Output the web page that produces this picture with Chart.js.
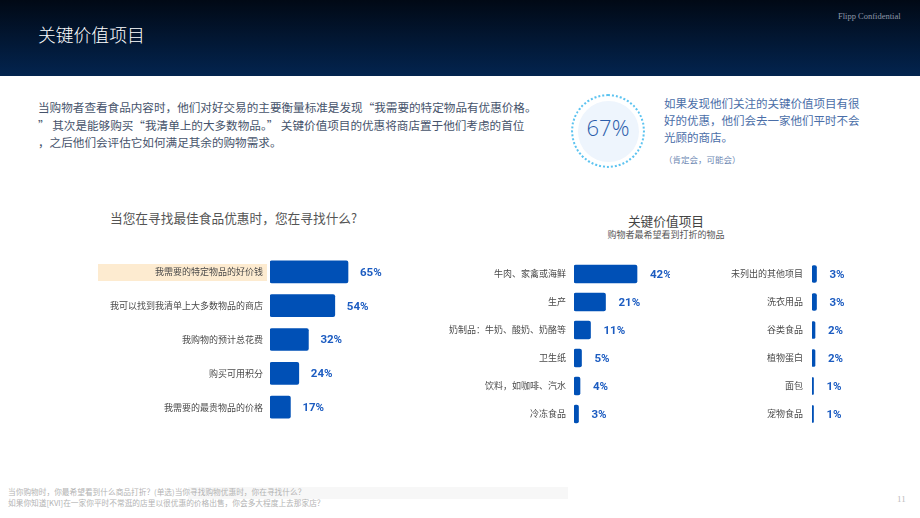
<!DOCTYPE html>
<html>
<head>
<meta charset="utf-8">
<script src="https://cdn.jsdelivr.net/npm/chart.js@4"></script>
<style>
  body { margin: 0; width: 920px; height: 518px; position: relative; background: #fff; overflow: hidden;
         font-family: "Noto Sans CJK SC", "Noto Sans", sans-serif; }
  .header { position: absolute; left: 0; top: 0; width: 920px; height: 76px;
            background: linear-gradient(#010915, #03244f); }
  .title { position: absolute; left: 38px; top: 21px; font-size: 17.8px; color: #fff; font-weight: 300; }
  .conf { position: absolute; left: 838px; top: 11px; font-family: "Liberation Serif", serif; font-size: 8.5px; color: #8d97a8; }
  .para { position: absolute; left: 38px; top: 99px; font-size: 11.6px; line-height: 17.5px; color: #46536b; white-space: nowrap; }
  .ring { position: absolute; left: 571px; top: 94px; width: 70px; height: 70px; border-radius: 50%;
          border: 2.5px dotted #5cc3f0; }
  .disc { position: absolute; left: 578px; top: 101px; width: 61px; height: 61px; border-radius: 50%; background: #eef5fd; }
  .pct { position: absolute; left: 571px; top: 112px; width: 74px; text-align: center; font-family: "Open Sans", sans-serif;
         font-weight: 300; font-size: 22px; color: #2b5dab; }
  .side { position: absolute; left: 664px; top: 95px; font-size: 11.5px; line-height: 17px; color: #4a6ea8; white-space: nowrap; }
  .side2 { position: absolute; left: 664px; top: 153px; font-size: 8.5px; color: #6d87b3; }
  .ltitle { position: absolute; left: 110px; top: 208px; font-size: 12.7px; color: #555; white-space: nowrap; }
  .rtitle { position: absolute; left: 566px; top: 211px; width: 200px; text-align: center; font-size: 12.7px; color: #444; }
  .rsub { position: absolute; left: 566px; top: 228px; width: 200px; text-align: center; font-size: 9px; color: #555; }
  .hl { position: absolute; left: 98px; top: 264px; width: 169px; height: 17px; background: #fdebd0; }
  canvas { position: absolute; }
  .fbox { position: absolute; left: 188px; top: 487px; width: 380px; height: 12px; background: #f7f7f7; }
  .foot { position: absolute; left: 8px; top: 486px; font-size: 7.7px; line-height: 11px; color: #b3b3b3; white-space: nowrap; }
  .pg { position: absolute; left: 897px; top: 494px; font-family: "Liberation Serif", serif; font-size: 9px; color: #bbb; }
</style>
</head>
<body>
<div class="header"></div>
<div class="title">关键价值项目</div>
<div class="conf">Flipp Confidential</div>
<div class="para">当购物者查看食品内容时，他们对好交易的主要衡量标准是发现“我需要的特定物品有优惠价格。<br>” 其次是能够购买“我清单上的大多数物品。” 关键价值项目的优惠将商店置于他们考虑的首位<br>，之后他们会评估它如何满足其余的购物需求。</div>
<div class="disc"></div>
<div class="ring"></div>
<div class="pct">67%</div>
<div class="side">如果发现他们关注的关键价值项目有很<br>好的优惠，他们会去一家他们平时不会<br>光顾的商店。</div>
<div class="side2">（肯定会，可能会）</div>
<div class="ltitle">当您在寻找最佳食品优惠时，您在寻找什么?</div>
<div class="rtitle">关键价值项目</div>
<div class="rsub">购物者最希望看到打折的物品</div>
<div class="hl"></div>
<canvas id="leftChart"></canvas>
<canvas id="midChart"></canvas>
<canvas id="rightChart"></canvas>
<div class="fbox"></div>
<div class="foot">当你购物时，你最希望看到什么商品打折？(单选)当你寻找购物优惠时，你在寻找什么？<br>如果你知道[KVI]在一家你平时不常逛的店里以很优惠的价格出售，你会多大程度上去那家店？</div>
<div class="pg">11</div>

<script>
// 数据
const leftLabels = ['我需要的特定物品的好价钱', '我可以找到我清单上大多数物品的商店', '我购物的预计总花费', '购买可用积分', '我需要的最贵物品的价格'];
const leftValues = [65, 54, 32, 24, 17];

const midLabels = ['牛肉、家禽或海鲜', '生产', '奶制品：牛奶、酸奶、奶酪等', '卫生纸', '饮料，如咖啡、汽水', '冷冻食品'];
const midValues = [42, 21, 11, 5, 4, 3];

const rightLabels = ['未列出的其他项目', '洗衣用品', '谷类食品', '植物蛋白', '面包', '宠物食品'];
const rightValues = [3, 3, 2, 2, 1, 1];

const BAR_COLOR = '#0050b6';
const VALUE_COLOR = '#1c5cc1';

// 在柱子右侧画百分比
const valueLabels = {
    id: 'valueLabels',
    afterDatasetsDraw(chart, args, opts) {
        const ctx = chart.ctx;
        const meta = chart.getDatasetMeta(0);
        ctx.save();
        ctx.font = 'bold 11.5px Roboto, sans-serif';
        ctx.fillStyle = VALUE_COLOR;
        ctx.textBaseline = 'middle';
        meta.data.forEach((bar, i) => {
            ctx.fillText(chart.data.datasets[0].data[i] + '%', bar.x + opts.offset, bar.y + 1);
        });
        ctx.restore();
    }
};

function makeChart(id, box, labels, values, opts) {
    const canvas = document.getElementById(id);
    canvas.style.left = box.left + 'px';
    canvas.style.top = box.top + 'px';
    canvas.width = box.width;
    canvas.height = box.height;
    const plotWidth = box.width - opts.axisWidth;

    return new Chart(canvas.getContext('2d'), {
        type: 'bar',
        data: {
            labels: labels,
            datasets: [{
                data: values,
                backgroundColor: BAR_COLOR,
                borderRadius: 2,
                borderSkipped: false,
                barThickness: opts.barThickness
            }]
        },
        options: {
            indexAxis: 'y',
            responsive: false,
            animation: false,
            layout: { padding: 0 },
            scales: {
                x: {
                    display: false,
                    min: 0,
                    max: plotWidth / opts.pxPerUnit
                },
                y: {
                    border: { display: false },
                    grid: { display: false, drawTicks: false, tickLength: 0 },
                    ticks: {
                        color: '#4a4a4a',
                        padding: opts.tickPad,
                        font: { family: 'Noto Sans CJK SC', size: 9 }
                    },
                    afterFit(scale) {
                        // 固定标签宽度，去掉上下留白
                        scale.width = opts.axisWidth;
                        scale.paddingTop = 0;
                        scale.paddingBottom = 0;
                    }
                }
            },
            plugins: {
                legend: { display: false },
                tooltip: { enabled: false },
                valueLabels: { offset: opts.valueOffset }
            }
        },
        plugins: [valueLabels]
    });
}

makeChart('leftChart', { left: 90, top: 255, width: 330, height: 169 }, leftLabels, leftValues,
    { axisWidth: 180, pxPerUnit: 1.2, barThickness: 22, tickPad: 7, valueOffset: 12 });

makeChart('midChart', { left: 440, top: 260, width: 230, height: 168 }, midLabels, midValues,
    { axisWidth: 134, pxPerUnit: 1.5, barThickness: 18, tickPad: 8, valueOffset: 13 });

makeChart('rightChart', { left: 700, top: 260, width: 160, height: 168 }, rightLabels, rightValues,
    { axisWidth: 112, pxPerUnit: 1.5, barThickness: 17, tickPad: 9, valueOffset: 13 });
</script>
</body>
</html>
